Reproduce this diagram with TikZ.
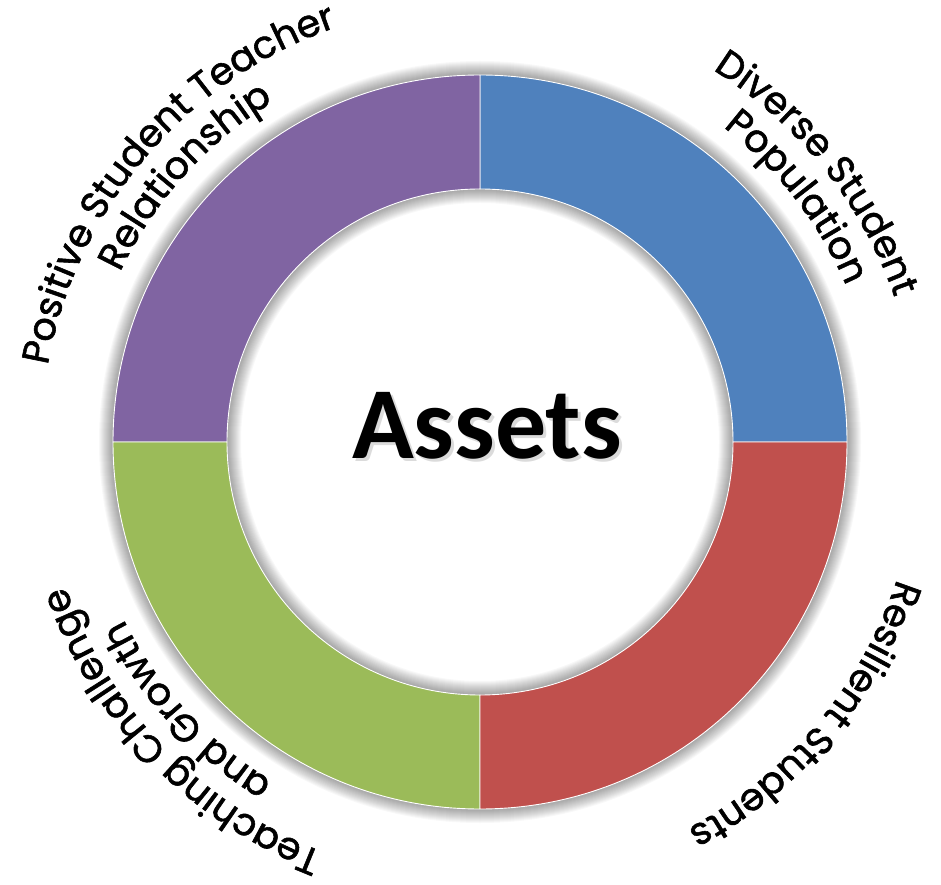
\documentclass[tikz,border=0pt]{standalone}
\usepackage{fontspec}
\usepackage{xcolor}
\usetikzlibrary{decorations.text}
\newfontfamily\labelfont{Poppins}[FakeBold=1.5]
\newfontfamily\titlefont{Carlito}
\definecolor{ringpurple}{HTML}{8064A2}
\definecolor{ringblue}{HTML}{4F81BD}
\definecolor{ringred}{HTML}{C0504D}
\definecolor{ringgreen}{HTML}{9BBB59}

\begin{document}
\begin{tikzpicture}[x=1pt,y=1pt,
    segment/.style={draw=white, line width=0.9pt},
    arclabel/.style={decorate, decoration={text along path, text align=center,
        text={|\labelfont\fontsize{38}{38}\selectfont|#1}}}]
            \useasboundingbox (0,0) rectangle (941,884);
            \fill[white] (0,0) rectangle (941,884);
            \coordinate (C) at (480,442);
            \foreach \w in {2,4,...,28}
                \draw[black, opacity=0.028, line width=\w pt] (C) circle[radius=367] (C) circle[radius=253];
            \foreach \a/\col in {0/ringblue,90/ringpurple,180/ringgreen,270/ringred}
                \filldraw[fill=\col, segment] ([shift={(\a:367)}]C) arc[start angle=\a, end angle=\a+90, radius=367]
                    -- ([shift={(\a+90:253)}]C) arc[start angle=\a+90, end angle=\a, radius=253] -- cycle;
            \node[text=black!40, opacity=0.35, font=\titlefont\bfseries\fontsize{102}{102}\selectfont] (assetsshadow) at (490,455) {Assets};
            \node[font=\titlefont\bfseries\fontsize{102}{102}\selectfont] (assets) at (487,458) {Assets};
            \path[arclabel={Positive Student Teacher}] ([shift={(199.5:439)}]C) arc[start angle=199.5, end angle=79.5, radius=439];
            \path[arclabel={Relationship}] ([shift={(198:398)}]C) arc[start angle=198, end angle=78, radius=398];
            \path[arclabel={Diverse Student}] ([shift={(98.6:439)}]C) arc[start angle=98.6, end angle=-21.4, radius=439];
            \path[arclabel={Population}] ([shift={(97.7:398)}]C) arc[start angle=97.7, end angle=-22.3, radius=398];
            \path[arclabel={Resilient Students}] ([shift={(20:439)}]C) arc[start angle=20, end angle=-100, radius=439];
            \path[arclabel={Teaching Challenge}] ([shift={(-75.9:439)}]C) arc[start angle=-75.9, end angle=-195.9, radius=439];
            \path[arclabel={and Growth}] ([shift={(-77.5:398)}]C) arc[start angle=-77.5, end angle=-197.5, radius=398];
        \end{tikzpicture}
\end{document}
